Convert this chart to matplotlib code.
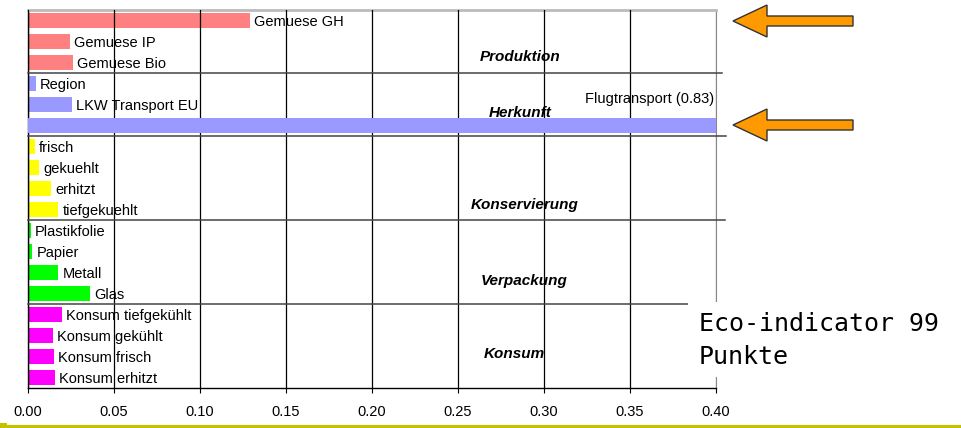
import numpy as np
import matplotlib
matplotlib.use("Agg")
import matplotlib.pyplot as plt
from matplotlib.patches import Polygon, Rectangle

plt.rcParams['font.family'] = ['Liberation Sans', 'DejaVu Sans']

# data (Eco-indicator 99 points)
labels = ['Gemuese GH', 'Gemuese IP', 'Gemuese Bio',
          'Region', 'LKW Transport EU', 'Flugtransport',
          'frisch', 'gekuehlt', 'erhitzt', 'tiefgekuehlt',
          'Plastikfolie', 'Papier', 'Metall', 'Glas',
          'Konsum tiefgekühlt', 'Konsum gekühlt', 'Konsum frisch', 'Konsum erhitzt']
values = [0.129, 0.0247, 0.0265,
          0.0048, 0.0259, 0.83,
          0.0043, 0.0066, 0.0136, 0.0177,
          0.0019, 0.0027, 0.0177, 0.0364,
          0.0200, 0.0148, 0.0154, 0.0160]
groups = ['Produktion', 'Herkunft', 'Konservierung', 'Verpackung', 'Konsum']
group_sizes = [3, 3, 4, 4, 4]
group_colors = ['#FF8080', '#9999FF', '#FFFF00', '#00FF00', '#FF00FF']
xticks = [0.00, 0.05, 0.10, 0.15, 0.20, 0.25, 0.30, 0.35, 0.40]
flug_label = 'Flugtransport (0.83)'

colors = []
for c, n in zip(group_colors, group_sizes):
    colors += [c] * n
ypos = np.arange(len(labels))

fig = plt.figure(figsize=(9.61, 4.28), dpi=100)
ax = fig.add_axes([0.0288, 0.0935, 0.7162, 0.8832])

bars = ax.barh(ypos, values, height=0.68, color=colors, zorder=1)
# the flight bar sits on top of the grid, the others below
bars[5].set_zorder(4)
bars[5].set_height(0.72)

ax.set_xlim(0, 0.40)
ax.set_ylim(len(labels) - 0.5, -0.5)
ax.set_xticks(xticks)
ax.set_xticklabels(['%.2f' % t for t in xticks], fontsize=10.5)
ax.set_yticks([])
ax.tick_params(axis='x', direction='out', length=3.5, width=0.8, pad=9)

ax.xaxis.grid(True, color='black', linewidth=0.9, zorder=3)
ax.set_axisbelow(False)
ax.get_xgridlines()[-1].set_color('#888888')

ax.spines['top'].set_color('#BBBBBB')
ax.spines['top'].set_linewidth(2)
ax.spines['right'].set_color('#888888')
ax.spines['left'].set_linewidth(1)
ax.spines['bottom'].set_linewidth(1)

# bar labels
for i, (lab, v) in enumerate(zip(labels, values)):
    if v > 0.40:
        continue
    ax.annotate(lab, (v, i), xytext=(3, -1), textcoords='offset points',
                va='center', ha='left', fontsize=10.5, zorder=5)
ax.text(0.399, 3.72, flug_label, ha='right', va='center', fontsize=10.5, zorder=5)

# group separators
bounds = np.cumsum(group_sizes)[:-1] - 0.5
sep_ends = [0.4038, 0.406, 0.4055, 0.3857]
for b, xe in zip(bounds, sep_ends):
    ax.plot([0, xe], [b, b], color='#444444', linewidth=1.1, clip_on=False, zorder=3)

# group names
group_x = [0.2864, 0.2864, 0.2888, 0.2888, 0.2829]
group_y = [1.76, 4.42, 8.81, 12.42, 15.90]
for g, gx, gy in zip(groups, group_x, group_y):
    ax.text(gx, gy, g, ha='center', va='center', fontsize=11,
            fontweight='bold', fontstyle='italic', zorder=5)

# overlay in pixel space for arrows, text box and the slide line
ov = fig.add_axes([0, 0, 1, 1])
ov.set_xlim(0, 961)
ov.set_ylim(428, 0)
ov.axis('off')

ov.add_patch(Rectangle((688, 302), 273, 75, facecolor='white', edgecolor='none'))
ov.text(699, 331, 'Eco-indicator 99', family='DejaVu Sans Mono', fontsize=18,
        va='baseline', ha='left')
ov.text(699, 364, 'Punkte', family='DejaVu Sans Mono', fontsize=18,
        va='baseline', ha='left')

for yc in [21, 125]:
    pts = [(733, yc), (767, yc - 16), (767, yc - 5), (853, yc - 5),
           (853, yc + 5), (767, yc + 5), (767, yc + 16)]
    ov.add_patch(Polygon(pts, closed=True, facecolor='#FF9900',
                         edgecolor='#333333', linewidth=1))

ov.plot([7, 961], [425.5, 425.5], color='#C2C200', linewidth=2.3)
ov.add_patch(Rectangle((0, 423), 7, 5, facecolor='#C2C200', edgecolor='none'))

fig.savefig('out.png', dpi=100)
